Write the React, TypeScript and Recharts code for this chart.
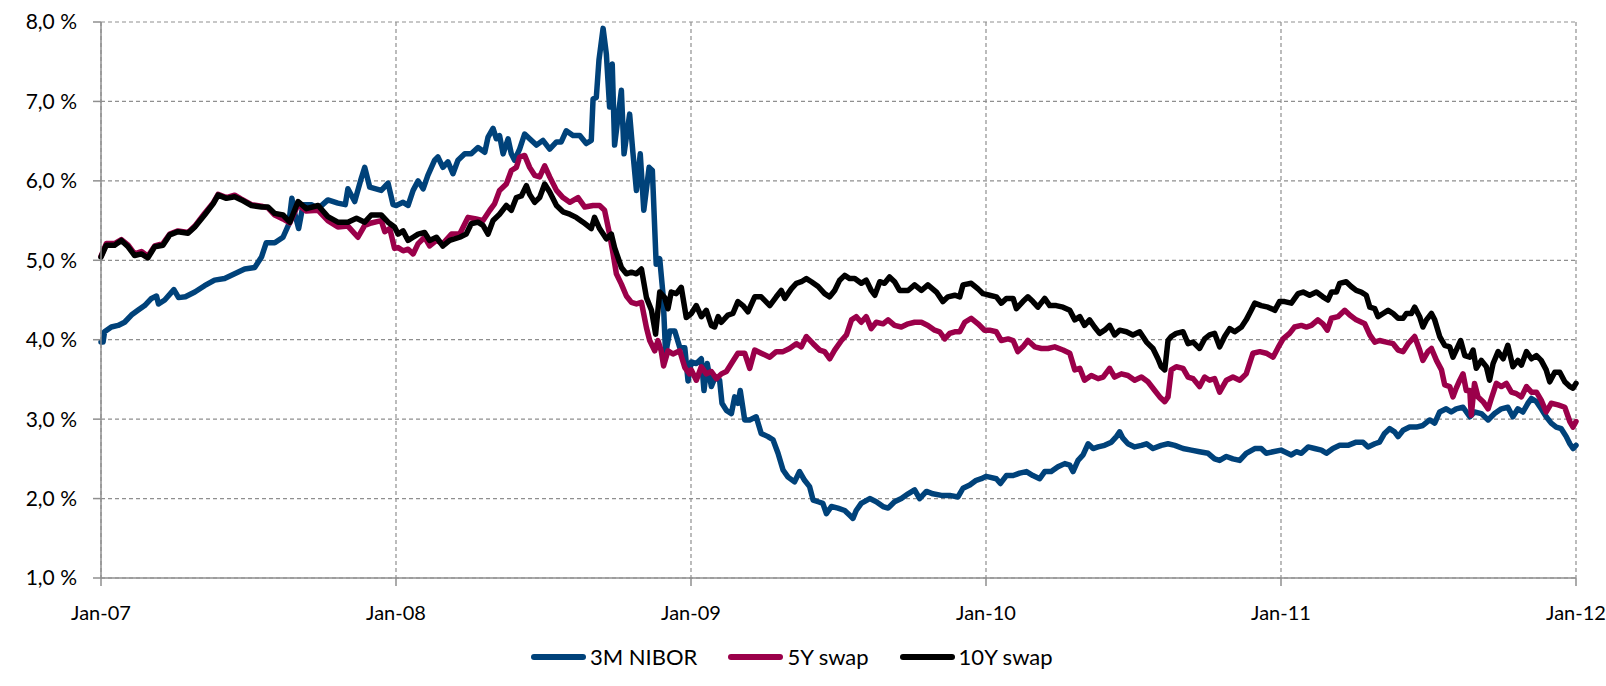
import { LineChart, Line, XAxis, YAxis, CartesianGrid, Legend } from 'recharts'

type Pt = [number, number]

// [decimal year, rate in %]
const NIBOR_3M: Pt[] = [
  [2007.000, 3.97], [2007.007, 3.97], [2007.012, 4.10], [2007.035, 4.16], [2007.058, 4.18],
  [2007.080, 4.22], [2007.103, 4.31], [2007.125, 4.37], [2007.148, 4.43], [2007.171, 4.52],
  [2007.188, 4.55], [2007.195, 4.45], [2007.216, 4.50], [2007.247, 4.63], [2007.263, 4.53],
  [2007.286, 4.54], [2007.318, 4.60], [2007.351, 4.68], [2007.385, 4.75], [2007.419, 4.77],
  [2007.453, 4.83], [2007.487, 4.89], [2007.521, 4.91], [2007.544, 5.04], [2007.560, 5.22],
  [2007.589, 5.22], [2007.617, 5.29], [2007.636, 5.45], [2007.647, 5.78], [2007.656, 5.60],
  [2007.670, 5.40], [2007.685, 5.70], [2007.713, 5.70], [2007.736, 5.65], [2007.769, 5.76],
  [2007.803, 5.72], [2007.828, 5.70], [2007.837, 5.90], [2007.860, 5.74], [2007.882, 6.03],
  [2007.894, 6.17], [2007.911, 5.92], [2007.950, 5.88], [2007.973, 5.97], [2007.990, 5.70],
  [2008.001, 5.69], [2008.024, 5.73], [2008.041, 5.69], [2008.058, 5.88], [2008.075, 6.00],
  [2008.092, 5.90], [2008.108, 6.07], [2008.131, 6.26], [2008.142, 6.30], [2008.159, 6.17],
  [2008.176, 6.24], [2008.193, 6.09], [2008.210, 6.26], [2008.233, 6.34], [2008.255, 6.34],
  [2008.278, 6.42], [2008.301, 6.36], [2008.312, 6.55], [2008.329, 6.66], [2008.340, 6.53],
  [2008.351, 6.57], [2008.363, 6.34], [2008.380, 6.53], [2008.391, 6.34], [2008.402, 6.26],
  [2008.419, 6.40], [2008.436, 6.59], [2008.453, 6.53], [2008.476, 6.45], [2008.498, 6.51],
  [2008.521, 6.40], [2008.544, 6.49], [2008.560, 6.49], [2008.577, 6.63], [2008.600, 6.57],
  [2008.623, 6.57], [2008.645, 6.47], [2008.662, 6.51], [2008.668, 7.03], [2008.679, 7.05],
  [2008.688, 7.52], [2008.702, 7.92], [2008.713, 7.60], [2008.724, 6.93], [2008.733, 7.47],
  [2008.741, 6.45], [2008.764, 7.14], [2008.773, 6.34], [2008.792, 6.84], [2008.803, 6.36],
  [2008.815, 5.88], [2008.828, 6.34], [2008.840, 5.63], [2008.858, 6.17], [2008.869, 6.13],
  [2008.882, 4.95], [2008.894, 5.02], [2008.905, 4.58], [2008.914, 3.82], [2008.928, 4.11],
  [2008.945, 4.11], [2008.962, 3.90], [2008.979, 3.90], [2008.990, 3.48], [2009.001, 3.72],
  [2009.018, 3.70], [2009.035, 3.76], [2009.044, 3.36], [2009.055, 3.70], [2009.069, 3.41],
  [2009.082, 3.53], [2009.097, 3.49], [2009.105, 3.20], [2009.120, 3.11], [2009.137, 3.07],
  [2009.148, 3.28], [2009.159, 3.20], [2009.167, 3.36], [2009.182, 2.99], [2009.199, 2.99],
  [2009.221, 3.03], [2009.238, 2.82], [2009.261, 2.78], [2009.278, 2.74], [2009.295, 2.57],
  [2009.312, 2.36], [2009.329, 2.27], [2009.351, 2.21], [2009.368, 2.34], [2009.385, 2.23],
  [2009.402, 2.15], [2009.414, 1.98], [2009.431, 1.96], [2009.447, 1.94], [2009.459, 1.81],
  [2009.476, 1.90], [2009.498, 1.88], [2009.521, 1.85], [2009.538, 1.79], [2009.549, 1.75],
  [2009.560, 1.85], [2009.577, 1.94], [2009.606, 2.00], [2009.628, 1.96], [2009.651, 1.90],
  [2009.668, 1.88], [2009.690, 1.96], [2009.713, 2.00], [2009.736, 2.06], [2009.758, 2.11],
  [2009.775, 2.00], [2009.798, 2.09], [2009.820, 2.06], [2009.849, 2.04], [2009.877, 2.04],
  [2009.905, 2.02], [2009.922, 2.13], [2009.945, 2.17], [2009.967, 2.23], [2009.984, 2.25],
  [2010.000, 2.28], [2010.012, 2.27], [2010.035, 2.25], [2010.049, 2.19], [2010.069, 2.29],
  [2010.092, 2.29], [2010.114, 2.32], [2010.137, 2.34], [2010.159, 2.29], [2010.182, 2.25],
  [2010.199, 2.34], [2010.221, 2.34], [2010.244, 2.40], [2010.267, 2.44], [2010.284, 2.42],
  [2010.295, 2.34], [2010.312, 2.48], [2010.329, 2.55], [2010.346, 2.69], [2010.363, 2.63],
  [2010.380, 2.65], [2010.402, 2.67], [2010.425, 2.71], [2010.442, 2.78], [2010.453, 2.84],
  [2010.464, 2.76], [2010.481, 2.69], [2010.504, 2.65], [2010.527, 2.67], [2010.544, 2.69],
  [2010.566, 2.63], [2010.594, 2.67], [2010.617, 2.69], [2010.640, 2.67], [2010.668, 2.63],
  [2010.696, 2.61], [2010.724, 2.59], [2010.753, 2.57], [2010.775, 2.50], [2010.792, 2.48],
  [2010.815, 2.53], [2010.837, 2.50], [2010.860, 2.48], [2010.882, 2.57], [2010.911, 2.63],
  [2010.933, 2.63], [2010.950, 2.57], [2010.973, 2.59], [2011.000, 2.61], [2011.012, 2.59],
  [2011.035, 2.55], [2011.052, 2.59], [2011.069, 2.57], [2011.092, 2.65], [2011.114, 2.63],
  [2011.137, 2.61], [2011.154, 2.57], [2011.176, 2.63], [2011.199, 2.67], [2011.227, 2.67],
  [2011.255, 2.71], [2011.278, 2.71], [2011.295, 2.65], [2011.318, 2.69], [2011.334, 2.71],
  [2011.351, 2.82], [2011.368, 2.88], [2011.385, 2.84], [2011.397, 2.78], [2011.414, 2.86],
  [2011.436, 2.90], [2011.459, 2.90], [2011.481, 2.92], [2011.504, 2.99], [2011.521, 2.95],
  [2011.538, 3.09], [2011.560, 3.13], [2011.577, 3.09], [2011.594, 3.13], [2011.617, 3.15],
  [2011.640, 3.03], [2011.656, 3.09], [2011.679, 3.07], [2011.702, 2.99], [2011.724, 3.07],
  [2011.747, 3.13], [2011.769, 3.15], [2011.786, 3.03], [2011.803, 3.13], [2011.820, 3.09],
  [2011.837, 3.20], [2011.849, 3.26], [2011.866, 3.22], [2011.882, 3.13], [2011.899, 3.03],
  [2011.916, 2.95], [2011.933, 2.90], [2011.950, 2.88], [2011.967, 2.78], [2011.979, 2.69],
  [2011.990, 2.63], [2012.000, 2.67],
]

const SWAP_5Y: Pt[] = [
  [2007.000, 5.05], [2007.018, 5.21], [2007.046, 5.21], [2007.069, 5.26], [2007.092, 5.19],
  [2007.114, 5.08], [2007.137, 5.11], [2007.159, 5.05], [2007.182, 5.18], [2007.210, 5.21],
  [2007.233, 5.33], [2007.261, 5.37], [2007.295, 5.35], [2007.318, 5.43], [2007.351, 5.59],
  [2007.380, 5.72], [2007.397, 5.83], [2007.425, 5.79], [2007.453, 5.82], [2007.476, 5.77],
  [2007.510, 5.70], [2007.544, 5.68], [2007.566, 5.66], [2007.589, 5.57], [2007.617, 5.52],
  [2007.640, 5.47], [2007.668, 5.70], [2007.696, 5.62], [2007.736, 5.63], [2007.769, 5.50],
  [2007.803, 5.42], [2007.837, 5.43], [2007.871, 5.29], [2007.894, 5.44], [2007.916, 5.47],
  [2007.950, 5.50], [2007.962, 5.36], [2007.979, 5.40], [2007.995, 5.15], [2008.007, 5.16],
  [2008.024, 5.12], [2008.041, 5.14], [2008.058, 5.08], [2008.075, 5.21], [2008.097, 5.29],
  [2008.114, 5.18], [2008.137, 5.25], [2008.159, 5.21], [2008.188, 5.33], [2008.216, 5.33],
  [2008.244, 5.54], [2008.272, 5.52], [2008.295, 5.50], [2008.318, 5.63], [2008.334, 5.71],
  [2008.351, 5.88], [2008.374, 5.96], [2008.391, 6.13], [2008.408, 6.17], [2008.419, 6.30],
  [2008.436, 6.32], [2008.453, 6.17], [2008.470, 6.07], [2008.487, 6.05], [2008.504, 6.19],
  [2008.521, 6.05], [2008.544, 5.88], [2008.566, 5.79], [2008.589, 5.73], [2008.617, 5.79],
  [2008.640, 5.67], [2008.668, 5.69], [2008.690, 5.69], [2008.707, 5.63], [2008.724, 5.33],
  [2008.736, 5.08], [2008.747, 4.83], [2008.764, 4.70], [2008.781, 4.55], [2008.798, 4.47],
  [2008.815, 4.45], [2008.832, 4.47], [2008.849, 4.15], [2008.860, 3.99], [2008.877, 3.86],
  [2008.888, 3.99], [2008.899, 3.86], [2008.907, 3.67], [2008.922, 3.86], [2008.939, 3.82],
  [2008.962, 3.86], [2008.979, 3.65], [2008.995, 3.57], [2009.001, 3.62], [2009.018, 3.49],
  [2009.035, 3.66], [2009.052, 3.57], [2009.069, 3.60], [2009.086, 3.51], [2009.103, 3.57],
  [2009.120, 3.60], [2009.137, 3.70], [2009.159, 3.83], [2009.182, 3.83], [2009.199, 3.64],
  [2009.216, 3.87], [2009.238, 3.83], [2009.267, 3.78], [2009.289, 3.85], [2009.312, 3.85],
  [2009.334, 3.89], [2009.357, 3.95], [2009.374, 3.91], [2009.391, 4.04], [2009.414, 3.95],
  [2009.436, 3.87], [2009.453, 3.85], [2009.470, 3.76], [2009.487, 3.87], [2009.510, 3.99],
  [2009.527, 4.06], [2009.544, 4.25], [2009.560, 4.29], [2009.577, 4.22], [2009.594, 4.29],
  [2009.611, 4.14], [2009.628, 4.22], [2009.651, 4.20], [2009.668, 4.25], [2009.690, 4.18],
  [2009.713, 4.16], [2009.736, 4.20], [2009.758, 4.22], [2009.781, 4.22], [2009.803, 4.18],
  [2009.826, 4.12], [2009.843, 4.10], [2009.860, 4.01], [2009.877, 4.08], [2009.894, 4.10],
  [2009.911, 4.10], [2009.928, 4.22], [2009.950, 4.27], [2009.973, 4.20], [2009.995, 4.12],
  [2010.012, 4.12], [2010.035, 4.10], [2010.052, 3.99], [2010.075, 4.01], [2010.092, 3.99],
  [2010.108, 3.85], [2010.125, 3.91], [2010.142, 3.99], [2010.165, 3.91], [2010.188, 3.89],
  [2010.210, 3.89], [2010.233, 3.91], [2010.261, 3.87], [2010.284, 3.83], [2010.301, 3.62],
  [2010.318, 3.64], [2010.334, 3.49], [2010.357, 3.55], [2010.380, 3.51], [2010.397, 3.53],
  [2010.419, 3.64], [2010.436, 3.53], [2010.459, 3.57], [2010.481, 3.55], [2010.504, 3.49],
  [2010.527, 3.53], [2010.549, 3.47], [2010.572, 3.36], [2010.589, 3.28], [2010.606, 3.22],
  [2010.617, 3.28], [2010.628, 3.62], [2010.645, 3.66], [2010.668, 3.64], [2010.685, 3.53],
  [2010.702, 3.51], [2010.724, 3.41], [2010.741, 3.53], [2010.758, 3.49], [2010.775, 3.51],
  [2010.792, 3.34], [2010.815, 3.49], [2010.837, 3.53], [2010.860, 3.49], [2010.882, 3.57],
  [2010.905, 3.83], [2010.928, 3.85], [2010.950, 3.83], [2010.973, 3.78], [2010.990, 3.90],
  [2011.007, 4.01], [2011.029, 4.08], [2011.046, 4.16], [2011.069, 4.18], [2011.086, 4.16],
  [2011.103, 4.18], [2011.125, 4.25], [2011.142, 4.20], [2011.157, 4.12], [2011.171, 4.27],
  [2011.193, 4.29], [2011.216, 4.37], [2011.233, 4.31], [2011.255, 4.25], [2011.284, 4.20],
  [2011.301, 4.06], [2011.318, 3.97], [2011.334, 3.99], [2011.357, 3.97], [2011.380, 3.95],
  [2011.397, 3.87], [2011.414, 3.85], [2011.431, 3.95], [2011.453, 4.04], [2011.470, 3.87],
  [2011.481, 3.74], [2011.498, 3.85], [2011.510, 3.89], [2011.527, 3.74], [2011.544, 3.62],
  [2011.555, 3.43], [2011.572, 3.41], [2011.583, 3.28], [2011.594, 3.39], [2011.606, 3.49],
  [2011.617, 3.57], [2011.628, 3.36], [2011.640, 3.36], [2011.645, 3.05], [2011.656, 3.45],
  [2011.668, 3.28], [2011.685, 3.22], [2011.702, 3.13], [2011.713, 3.26], [2011.730, 3.45],
  [2011.747, 3.41], [2011.764, 3.45], [2011.781, 3.34], [2011.798, 3.32], [2011.815, 3.28],
  [2011.832, 3.41], [2011.849, 3.34], [2011.866, 3.34], [2011.882, 3.24], [2011.899, 3.09],
  [2011.916, 3.20], [2011.939, 3.18], [2011.962, 3.15], [2011.979, 2.97], [2011.990, 2.90],
  [2012.000, 2.97],
]

const SWAP_10Y: Pt[] = [
  [2007.000, 5.04], [2007.018, 5.19], [2007.046, 5.19], [2007.069, 5.25], [2007.092, 5.17],
  [2007.114, 5.06], [2007.137, 5.08], [2007.159, 5.03], [2007.182, 5.17], [2007.210, 5.19],
  [2007.233, 5.32], [2007.261, 5.36], [2007.295, 5.34], [2007.318, 5.42], [2007.351, 5.57],
  [2007.380, 5.71], [2007.397, 5.82], [2007.425, 5.78], [2007.453, 5.80], [2007.476, 5.76],
  [2007.510, 5.69], [2007.544, 5.67], [2007.566, 5.67], [2007.589, 5.59], [2007.617, 5.57],
  [2007.640, 5.48], [2007.668, 5.74], [2007.696, 5.65], [2007.736, 5.69], [2007.769, 5.55],
  [2007.803, 5.48], [2007.837, 5.48], [2007.866, 5.53], [2007.894, 5.48], [2007.916, 5.57],
  [2007.950, 5.57], [2007.973, 5.48], [2007.995, 5.42], [2008.007, 5.33], [2008.024, 5.37],
  [2008.041, 5.25], [2008.058, 5.29], [2008.075, 5.33], [2008.097, 5.35], [2008.114, 5.25],
  [2008.137, 5.29], [2008.159, 5.18], [2008.182, 5.25], [2008.216, 5.29], [2008.238, 5.33],
  [2008.255, 5.46], [2008.278, 5.48], [2008.295, 5.44], [2008.312, 5.33], [2008.329, 5.50],
  [2008.351, 5.58], [2008.374, 5.69], [2008.391, 5.63], [2008.408, 5.79], [2008.425, 5.81],
  [2008.442, 5.94], [2008.453, 5.83], [2008.470, 5.73], [2008.487, 5.79], [2008.504, 5.96],
  [2008.521, 5.86], [2008.544, 5.69], [2008.566, 5.61], [2008.589, 5.58], [2008.611, 5.54],
  [2008.634, 5.48], [2008.662, 5.40], [2008.673, 5.54], [2008.690, 5.40], [2008.713, 5.27],
  [2008.730, 5.33], [2008.741, 5.16], [2008.764, 4.91], [2008.781, 4.83], [2008.798, 4.85],
  [2008.815, 4.83], [2008.832, 4.89], [2008.849, 4.53], [2008.866, 4.37], [2008.880, 4.07],
  [2008.894, 4.60], [2008.911, 4.53], [2008.922, 4.39], [2008.933, 4.60], [2008.950, 4.58],
  [2008.967, 4.66], [2008.984, 4.28], [2009.001, 4.33], [2009.018, 4.43], [2009.035, 4.29],
  [2009.052, 4.37], [2009.069, 4.18], [2009.080, 4.16], [2009.092, 4.29], [2009.103, 4.22],
  [2009.125, 4.31], [2009.142, 4.33], [2009.159, 4.48], [2009.176, 4.43], [2009.193, 4.35],
  [2009.216, 4.54], [2009.238, 4.54], [2009.267, 4.43], [2009.289, 4.54], [2009.306, 4.62],
  [2009.318, 4.52], [2009.340, 4.64], [2009.357, 4.71], [2009.374, 4.73], [2009.391, 4.77],
  [2009.408, 4.73], [2009.431, 4.67], [2009.453, 4.58], [2009.470, 4.54], [2009.487, 4.62],
  [2009.504, 4.75], [2009.521, 4.81], [2009.538, 4.77], [2009.555, 4.77], [2009.577, 4.71],
  [2009.594, 4.75], [2009.611, 4.62], [2009.623, 4.56], [2009.640, 4.73], [2009.656, 4.71],
  [2009.673, 4.79], [2009.690, 4.73], [2009.707, 4.62], [2009.736, 4.62], [2009.758, 4.69],
  [2009.781, 4.62], [2009.803, 4.69], [2009.832, 4.60], [2009.854, 4.48], [2009.871, 4.54],
  [2009.894, 4.56], [2009.911, 4.54], [2009.922, 4.69], [2009.950, 4.71], [2009.973, 4.64],
  [2009.990, 4.58], [2010.001, 4.57], [2010.012, 4.56], [2010.035, 4.54], [2010.052, 4.46],
  [2010.069, 4.52], [2010.092, 4.52], [2010.103, 4.39], [2010.125, 4.48], [2010.142, 4.54],
  [2010.159, 4.48], [2010.176, 4.41], [2010.199, 4.52], [2010.216, 4.43], [2010.238, 4.43],
  [2010.261, 4.41], [2010.284, 4.37], [2010.301, 4.25], [2010.318, 4.29], [2010.334, 4.18],
  [2010.351, 4.25], [2010.368, 4.16], [2010.385, 4.08], [2010.402, 4.12], [2010.419, 4.18],
  [2010.436, 4.06], [2010.453, 4.12], [2010.476, 4.10], [2010.498, 4.06], [2010.521, 4.10],
  [2010.544, 3.97], [2010.566, 3.89], [2010.583, 3.76], [2010.594, 3.66], [2010.606, 3.62],
  [2010.617, 3.99], [2010.628, 4.04], [2010.645, 4.08], [2010.668, 4.10], [2010.685, 3.95],
  [2010.702, 3.97], [2010.724, 3.89], [2010.741, 4.01], [2010.758, 4.06], [2010.775, 4.08],
  [2010.792, 3.91], [2010.809, 4.04], [2010.826, 4.14], [2010.843, 4.10], [2010.866, 4.16],
  [2010.882, 4.25], [2010.899, 4.37], [2010.911, 4.46], [2010.933, 4.43], [2010.956, 4.41],
  [2010.979, 4.37], [2010.995, 4.48], [2011.012, 4.48], [2011.035, 4.46], [2011.058, 4.58],
  [2011.075, 4.60], [2011.097, 4.56], [2011.120, 4.60], [2011.142, 4.54], [2011.159, 4.50],
  [2011.171, 4.60], [2011.188, 4.60], [2011.199, 4.71], [2011.221, 4.73], [2011.238, 4.67],
  [2011.255, 4.62], [2011.272, 4.60], [2011.289, 4.56], [2011.301, 4.41], [2011.318, 4.39],
  [2011.329, 4.29], [2011.346, 4.33], [2011.363, 4.37], [2011.380, 4.33], [2011.397, 4.27],
  [2011.414, 4.27], [2011.425, 4.33], [2011.442, 4.33], [2011.453, 4.41], [2011.470, 4.29],
  [2011.481, 4.16], [2011.493, 4.25], [2011.510, 4.33], [2011.521, 4.25], [2011.538, 4.04],
  [2011.555, 3.93], [2011.572, 3.91], [2011.583, 3.78], [2011.594, 3.87], [2011.609, 3.99],
  [2011.623, 3.80], [2011.640, 3.78], [2011.651, 3.87], [2011.662, 3.64], [2011.679, 3.74],
  [2011.696, 3.66], [2011.707, 3.49], [2011.719, 3.70], [2011.736, 3.85], [2011.753, 3.76],
  [2011.769, 3.93], [2011.786, 3.66], [2011.803, 3.74], [2011.815, 3.68], [2011.832, 3.85],
  [2011.849, 3.76], [2011.866, 3.80], [2011.882, 3.74], [2011.899, 3.62], [2011.911, 3.47],
  [2011.928, 3.59], [2011.945, 3.59], [2011.962, 3.47], [2011.979, 3.41], [2011.990, 3.39],
  [2012.000, 3.45],
]

const YEAR_TICKS = [2007, 2008, 2009, 2010, 2011, 2012]
const RATE_TICKS = [1, 2, 3, 4, 5, 6, 7, 8]

const SERIES = [
  { name: '3M NIBOR', points: NIBOR_3M, color: '#00427a' },
  { name: '5Y swap', points: SWAP_5Y, color: '#9b004a' },
  { name: '10Y swap', points: SWAP_10Y, color: '#000000' },
]

const FONT = 'Lato, "Open Sans", sans-serif'
const AXIS_GREY = '#8f8f8f'

const fmtYear = (v: number) => `Jan-${String(v - 2000).padStart(2, '0')}`
const fmtRate = (v: number) => `${v.toFixed(1).replace('.', ',')} %`

function LegendBox() {
  return (
    <div style={{ display: 'flex', alignItems: 'center', fontFamily: FONT, fontSize: 22, color: '#000', whiteSpace: 'nowrap' }}>
      {SERIES.map((s) => (
        <div key={s.name} style={{ display: 'flex', alignItems: 'center', marginRight: 31 }}>
          <span style={{ display: 'inline-block', width: 55, height: 6, borderRadius: 3, background: s.color, marginRight: 4 }} />
          <span>{s.name}</span>
        </div>
      ))}
    </div>
  )
}

export default function App() {
  return (
    <div style={{ width: 1606, height: 686, background: '#fff' }}>
      <style>{'body{margin:0;background:#fff}'}</style>
      <LineChart width={1606} height={686} margin={{ top: 22, right: 30, bottom: 78, left: 0 }}>
        <CartesianGrid stroke={AXIS_GREY} strokeDasharray="4 3" strokeWidth={1.2} />
        <XAxis
          type="number"
          dataKey="t"
          domain={[2007, 2012]}
          ticks={YEAR_TICKS}
          tickFormatter={fmtYear}
          allowDuplicatedCategory={false}
          stroke={AXIS_GREY}
          strokeWidth={1.5}
          tickSize={8}
          tickMargin={20}
          tick={{ fontSize: 20, fontFamily: FONT, fill: '#000' }}
        />
        <YAxis
          type="number"
          domain={[1, 8]}
          ticks={RATE_TICKS}
          tickFormatter={fmtRate}
          width={101}
          stroke={AXIS_GREY}
          strokeWidth={1.5}
          tickSize={8}
          tickMargin={16}
          tick={{ fontSize: 21, fontFamily: FONT, fill: '#000' }}
        />
        <Legend
          layout="horizontal"
          verticalAlign="middle"
          align="center"
          content={() => <LegendBox />}
          wrapperStyle={{ left: 531, top: 643, width: 'auto' }}
        />
        {SERIES.map((s) => (
          <Line
            key={s.name}
            name={s.name}
            data={s.points.map(([t, v]) => ({ t, v }))}
            dataKey="v"
            type="linear"
            stroke={s.color}
            strokeWidth={5.5}
            strokeLinejoin="round"
            strokeLinecap="round"
            dot={false}
            isAnimationActive={false}
          />
        ))}
      </LineChart>
    </div>
  )
}
